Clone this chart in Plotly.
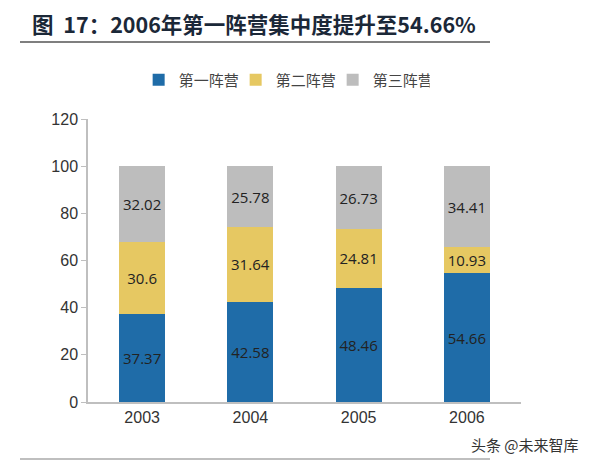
import plotly.graph_objects as go

years = ["2003", "2004", "2005", "2006"]
first_camp = [37.37, 42.58, 48.46, 54.66]
second_camp = [30.6, 31.64, 24.81, 10.93]
third_camp = [32.02, 25.78, 26.73, 34.41]

names = ["第一阵营", "第二阵营", "第三阵营"]
colors = ["#1f6ca8", "#e6c862", "#bdbdbd"]

fig = go.Figure()
for name, vals, c in zip(names, [first_camp, second_camp, third_camp], colors):
    fig.add_trace(go.Bar(
        x=years, y=vals, name=name, marker_color=c, marker_line_width=0,
        text=[str(v) for v in vals], textposition="inside", insidetextanchor="middle",
        textfont=dict(family="Open Sans, Liberation Sans", size=15, color="#222222"),
        constraintext="none",
    ))

fig.update_layout(
    barmode="stack",
    bargap=0.575,
    width=593, height=461,
    margin=dict(l=88, r=72, t=119, b=59),
    paper_bgcolor="white", plot_bgcolor="white",
    font=dict(family="Liberation Sans, Arial", color="#333333"),
    legend=dict(
        orientation="h", x=0.453, xanchor="center", y=1 + (119 - 80) / 283, yanchor="middle",
        font=dict(family="Noto Sans CJK SC", size=15, color="#444444"),
        itemwidth=30, entrywidth=52, traceorder="normal",
    ),
    xaxis=dict(
        showline=True, linecolor="#bfbfbf", linewidth=1.5,
        ticks="", tickfont=dict(size=16, color="#333333"),
    ),
    yaxis=dict(
        range=[0, 120], dtick=20, showgrid=False, zeroline=False,
        showline=True, linecolor="#bfbfbf", linewidth=1.5,
        ticks="outside", ticklen=5, tickcolor="#bfbfbf",
        tickfont=dict(size=16, color="#333333"),
    ),
)

fig.add_annotation(
    text="<b>图  17：2006年第一阵营集中度提升至54.66%</b>",
    xref="paper", yref="paper", x=(30 - 88) / 433, y=1 + (119 - 23) / 283,
    xanchor="left", yanchor="middle", showarrow=False,
    font=dict(family="Noto Sans CJK SC", size=21.5, color="#1b2838"),
)
fig.add_annotation(
    text="头条 @未来智库",
    xref="paper", yref="paper", x=1 + (581 - 521) / 433, y=-(444 - 402) / 283,
    xanchor="right", yanchor="middle", showarrow=False,
    font=dict(family="Noto Sans CJK SC", size=15, color="#333333"),
)
fig.add_shape(type="line", xref="paper", yref="paper",
              x0=(20 - 88) / 433, x1=(490 - 88) / 433,
              y0=1 + (119 - 42) / 283, y1=1 + (119 - 42) / 283,
              line=dict(color="#555555", width=1.5))
fig.add_shape(type="line", xref="paper", yref="paper",
              x0=(20 - 88) / 433, x1=(490 - 88) / 433,
              y0=-(459 - 402) / 283, y1=-(459 - 402) / 283,
              line=dict(color="#aaaaaa", width=1.5))

fig.write_html("out.html", config={"displayModeBar": False},
               post_script="document.body.style.margin='0';")
